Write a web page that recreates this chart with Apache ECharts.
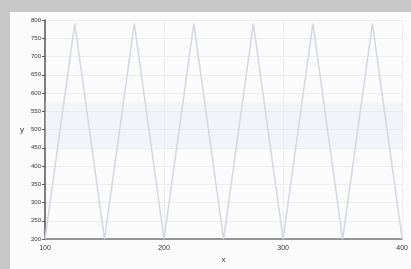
<!DOCTYPE html>
<html>
<head>
<meta charset="utf-8">
<script src="https://cdn.jsdelivr.net/npm/echarts@6/dist/echarts.min.js"></script>
<style>
  html, body { margin: 0; padding: 0; background: #c8c8c8; }
  #wrap { position: absolute; left: 0; top: 0; width: 411px; height: 269px; background: #c8c8c8; }
  #chart { position: absolute; left: 10px; top: 12px; width: 401px; height: 257px; background: #fbfbfb; }
</style>
</head>
<body>
<div id="wrap"><div id="chart"></div></div>
<script>
// triangle wave
var xValues = [100, 125, 150, 175, 200, 225, 250, 275, 300, 325, 350, 375, 400];
var yValues = [200, 790, 200, 790, 200, 790, 200, 790, 200, 790, 200, 790, 200];
var xTicks = [100, 200, 300, 400];
var yTicks = [200, 250, 300, 350, 400, 450, 500, 550, 600, 650, 700, 750, 800];

var points = xValues.map(function (x, i) { return [x, yValues[i]]; });

var myChart = echarts.init(document.getElementById('chart'));

var option = {
    animation: false,
    grid: { left: 35, right: 6, top: 8, bottom: 24 },
    xAxis: {
        type: 'value',
        name: 'x',
        nameLocation: 'middle',
        nameGap: 14,
        nameTextStyle: { fontSize: 8, color: '#333' },
        min: xTicks[0],
        max: xTicks[xTicks.length - 1],
        interval: 100,
        axisLine: { lineStyle: { color: '#777', width: 1.5 } },
        axisTick: { show: false },
        axisLabel: { fontSize: 7, color: '#333', margin: 5 },
        splitLine: { show: true, lineStyle: { color: '#ededed' } }
    },
    yAxis: {
        type: 'value',
        name: 'y',
        nameLocation: 'middle',
        nameGap: 21,
        nameRotate: 0,
        nameTextStyle: { fontSize: 8, color: '#333' },
        min: yTicks[0],
        max: yTicks[yTicks.length - 1],
        interval: 50,
        axisLine: { show: true, lineStyle: { color: '#555', width: 1.5 } },
        axisTick: { show: true, length: 3, lineStyle: { color: '#555' } },
        axisLabel: { fontSize: 6, color: '#333', margin: 4 },
        splitLine: { show: true, lineStyle: { color: '#ededed' } }
    },
    series: [{
        type: 'line',
        data: points,
        symbol: 'none',
        lineStyle: { color: '#d3d7df', width: 1.5 },
        markArea: {
            silent: true,
            itemStyle: { color: 'rgba(220,232,244,0.3)' },
            data: [[{ yAxis: 450 }, { yAxis: 575 }]]
        }
    }]
};

myChart.setOption(option);
</script>
</body>
</html>
